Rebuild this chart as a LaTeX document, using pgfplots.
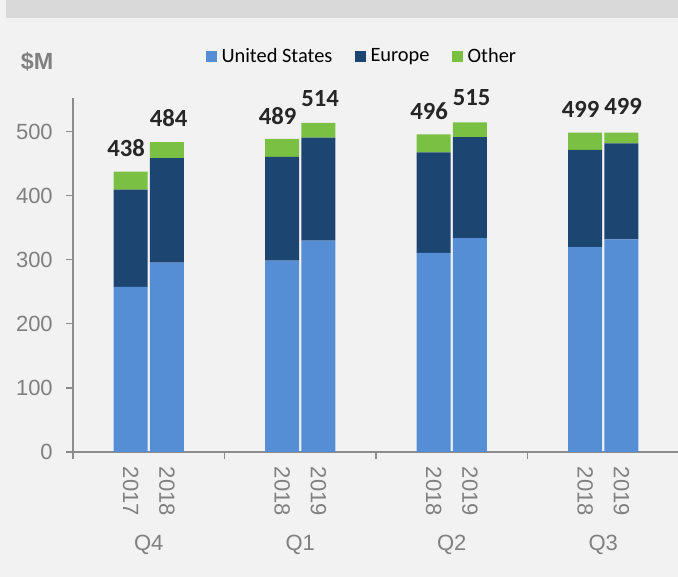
\documentclass[border=0pt]{standalone}
\usepackage{pgfplots}
\pgfplotsset{compat=1.18}
\usepackage{pgfplotstable}
\usepackage{fontspec}
\setmainfont{Liberation Sans}
\newfontfamily\carlito{Carlito}
\definecolor{usblue}{HTML}{558ED5}
\definecolor{eunavy}{HTML}{1D4571}
\definecolor{othgreen}{HTML}{7AC043}
\definecolor{bggray}{HTML}{F2F2F2}
\definecolor{bandgray}{HTML}{D9D9D9}
\definecolor{axgray}{HTML}{8C8C8C}
\definecolor{txtgray}{HTML}{808080}
\definecolor{numdark}{HTML}{262626}

\pgfplotstableread{
x    us  eu  oth total dx
0.38 258 152 28  438   -3.4
0.62 296 163 25  484   1.2
1.38 299 162 28  489   -3.4
1.62 330 161 23  514   1.2
2.38 311 157 28  496   -3.4
2.62 334 158 23  515   1.2
3.38 320 152 27  499   -3.4
3.62 332 150 17  499   1.2
}\data

\begin{document}
\begin{tikzpicture}
\fill[bggray] (0,0) rectangle (508.5pt,432.75pt);
\fill[bandgray] (4.5pt,419.25pt) rectangle (508.5pt,432.75pt);
\path[use as bounding box] (0,0) rectangle (508.5pt,432.75pt);
\node[font=\bfseries\fontsize{17.5}{20}\selectfont, text=txtgray] at (27.75pt,386.25pt) {\$M};
\begin{axis}[
  at={(54.75pt,93.75pt)}, anchor=south west,
  scale only axis, width=453.4pt, height=265.5pt,
  xmin=0, xmax=3.99, ymin=0, ymax=553,
  axis x line=bottom, axis y line=left,
  axis line style={axgray, line width=0.8pt, -},
  tick style={axgray, line width=0.8pt},
  tick align=outside, major tick length=5pt,
  xtick={0,1,2,3}, xticklabels={},
  ytick={0,100,...,500},
  /pgf/number format/assume math mode=true,
  yticklabel style={font=\fontsize{16.5}{18}\selectfont, text=txtgray, anchor=east, inner sep=0pt, xshift=-10pt},
  extra x ticks={0.38,0.62,1.38,1.62,2.38,2.62,3.38,3.62},
  extra x tick labels={2017,2018,2018,2019,2018,2019,2018,2019},
  extra x tick style={major tick length=0pt, tick label style={font=\fontsize{16.5}{18}\selectfont, text=txtgray, yshift=-11pt, rotate=-90, anchor=west, inner sep=0pt}},
  ybar stacked, bar width=25.5pt,
  clip=false,
  legend columns=-1,
  legend style={at={(0.4787,1.118)}, anchor=center, draw=none, fill=none,
    font=\carlito\fontsize{15.3}{18}\selectfont,
    /tikz/every even column/.append style={column sep=15pt}},
  legend image code/.code={\fill[#1,draw=none] (0pt,-4pt) rectangle (8pt,4pt); \path (9.6pt,0pt);},
]
\addplot[fill=usblue, draw=none] table[x=x, y=us]{\data};
\addplot[fill=eunavy, draw=none] table[x=x, y=eu]{\data};
\addplot[fill=othgreen, draw=none,
  point meta=explicit symbolic,
  visualization depends on={\thisrow{dx} \as \dx},
  nodes near coords={\pgfplotspointmeta},
  nodes near coords style={font=\carlito\bfseries\fontsize{18.5}{21}\selectfont, text=numdark, anchor=south, inner sep=0pt, yshift=17.5pt, xshift=\dx pt}
  ] table[x=x, y=oth, meta=total]{\data};
\legend{United States, Europe, Other}
\node[font=\fontsize{16.5}{18}\selectfont, text=txtgray] at (axis cs:0.5,0) [yshift=-69.75pt] {Q4};
\node[font=\fontsize{16.5}{18}\selectfont, text=txtgray] at (axis cs:1.5,0) [yshift=-69.75pt] {Q1};
\node[font=\fontsize{16.5}{18}\selectfont, text=txtgray] at (axis cs:2.5,0) [yshift=-69.75pt] {Q2};
\node[font=\fontsize{16.5}{18}\selectfont, text=txtgray] at (axis cs:3.5,0) [yshift=-69.75pt] {Q3};
\end{axis}
\end{tikzpicture}
\end{document}
